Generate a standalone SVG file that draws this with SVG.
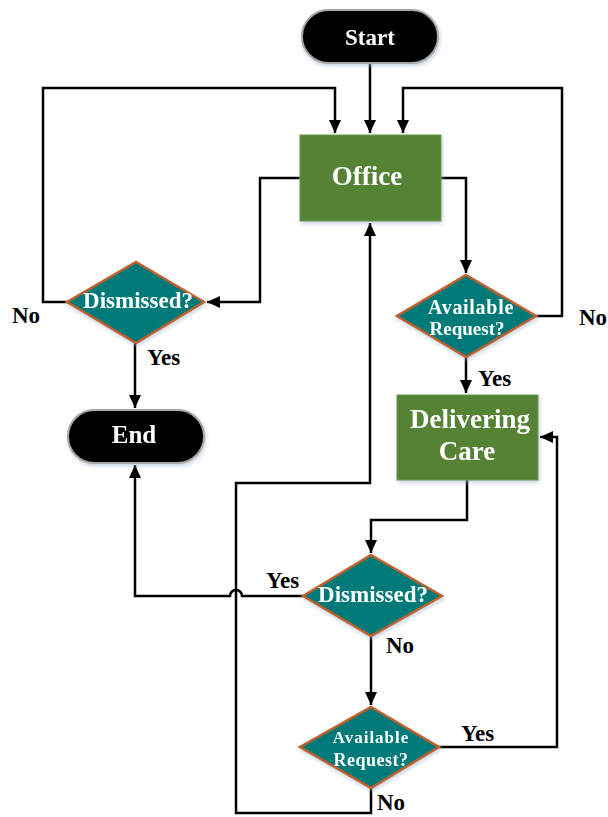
<svg xmlns="http://www.w3.org/2000/svg" width="608" height="817" viewBox="0 0 608 817">
<defs>
<marker id="ah" markerWidth="14" markerHeight="14" refX="13" refY="7" orient="auto" markerUnits="userSpaceOnUse">
<path d="M0,1 L13,7 L0,13 Z" fill="#000"/>
</marker>
<filter id="sh" x="-20%" y="-20%" width="140%" height="150%">
<feDropShadow dx="1" dy="2" stdDeviation="2" flood-color="#9fb3c8" flood-opacity="0.6"/>
</filter>
</defs>
<style>
.pill{fill:#000;stroke:#a6a6a6;stroke-width:2}
.box{fill:#548235;stroke:#6e9a4a;stroke-width:1}
.dia{fill:#047a78;stroke:#c0602a;stroke-width:2.5}
.t{font-family:"Liberation Serif","Times New Roman",serif;font-weight:bold;fill:#fff;text-anchor:middle}
.lbl{font-family:"Liberation Serif","Times New Roman",serif;font-weight:bold;fill:#000;font-size:23px}
.c{fill:none;stroke:#000;stroke-width:2.5}
</style>
<rect width="608" height="817" fill="#fff"/>
<g id="connectors">
<path class="c" d="M370,64 L370,133" marker-end="url(#ah)"/>
<path class="c" d="M68,302 L43,302 L43,88 L335,88 L335,133" marker-end="url(#ah)"/>
<path class="c" d="M535,316 L562,316 L562,88 L403,88 L403,133" marker-end="url(#ah)"/>
<path class="c" d="M300,178 L260,178 L260,302 L207,302" marker-end="url(#ah)"/>
<path class="c" d="M135,343 L135,408" marker-end="url(#ah)"/>
<path class="c" d="M441,178 L466,178 L466,273" marker-end="url(#ah)"/>
<path class="c" d="M466,357 L466,393" marker-end="url(#ah)"/>
<path class="c" d="M467,480 L467,520 L371,520 L371,553" marker-end="url(#ah)"/>
<path class="c" d="M303,596 L242,596 A6,6 0 0 0 230,596 L135,596 L135,465" marker-end="url(#ah)"/>
<path class="c" d="M371,636 L371,705" marker-end="url(#ah)"/>
<path class="c" d="M439,747 L557,747 L557,437 L540,437" marker-end="url(#ah)"/>
<path class="c" d="M371,788 L371,813 L236,813 L236,483 L370,483 L370,223" marker-end="url(#ah)"/>
</g>
<g id="start" filter="url(#sh)">
<rect class="pill" x="302" y="10" width="136" height="53" rx="26.5"/>
<text class="t" x="370" y="45" font-size="23">Start</text>
</g>
<g id="office" filter="url(#sh)">
<rect class="box" x="300" y="135" width="141" height="86"/>
<text class="t" x="367" y="185" font-size="27">Office</text>
</g>
<g id="dismissed1" filter="url(#sh)">
<polygon class="dia" points="136,262 204,302 136,343 67,302"/>
<text class="t" x="138" y="308" font-size="23">Dismissed?</text>
</g>
<g id="end" filter="url(#sh)">
<rect class="pill" x="68" y="410" width="136" height="53" rx="26.5"/>
<text class="t" x="134" y="443" font-size="25">End</text>
</g>
<g id="available1" filter="url(#sh)">
<polygon class="dia" points="466,275 536,316 466,357 397,316"/>
<text class="t" x="471" y="314" font-size="20" letter-spacing="0.7">Available</text>
<text class="t" x="467" y="335" font-size="19">Request?</text>
</g>
<g id="delivering" filter="url(#sh)">
<rect class="box" x="397" y="395" width="141" height="85"/>
<text class="t" x="470" y="428" font-size="27">Delivering</text>
<text class="t" x="467" y="460" font-size="27">Care</text>
</g>
<g id="dismissed2" filter="url(#sh)">
<polygon class="dia" points="371,555 442,596 371,636 303,596"/>
<text class="t" x="373" y="602" font-size="23">Dismissed?</text>
</g>
<g id="available2" filter="url(#sh)">
<polygon class="dia" points="371,707 439,747 371,788 300,747"/>
<text class="t" x="371" y="743" font-size="17" letter-spacing="1">Available</text>
<text class="t" x="371" y="766" font-size="18" letter-spacing="0.5">Request?</text>
</g>
<g id="labels">
<text class="lbl" x="12" y="323">No</text>
<text class="lbl" x="147" y="365">Yes</text>
<text class="lbl" x="579" y="325">No</text>
<text class="lbl" x="478" y="386">Yes</text>
<text class="lbl" x="266" y="588">Yes</text>
<text class="lbl" x="386" y="653">No</text>
<text class="lbl" x="461" y="741">Yes</text>
<text class="lbl" x="377" y="810">No</text>
</g>
</svg>
